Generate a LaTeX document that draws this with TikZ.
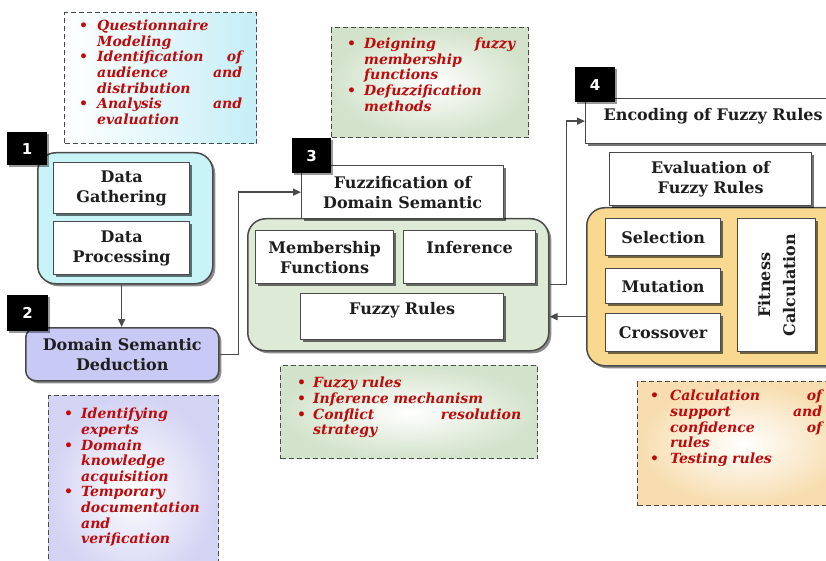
\documentclass[tikz,border=0pt]{standalone}
\usepackage{fontspec}
\setmainfont{DejaVu Serif}
\newfontfamily\lblfont{DejaVu Sans}
\usetikzlibrary{shadows,arrows.meta}
\definecolor{edge}{HTML}{4A4A4A}
\definecolor{cyanfill}{HTML}{C8F4F7}
\definecolor{lavfill}{HTML}{C9C9F6}
\definecolor{greenfill}{HTML}{DDEAD6}
\definecolor{orangefill}{HTML}{F9D98F}
\definecolor{notered}{HTML}{BE0A0A}
\definecolor{cyantint}{HTML}{C5EEF6}
\definecolor{lavtint}{HTML}{D3D3F4}
\definecolor{greentint}{HTML}{D3E3CB}
\definecolor{peachtint}{HTML}{F7DDAF}
\definecolor{boxtext}{HTML}{1E1E1E}
\newlength\hng
\newcommand{\itm}[1]{\par\noindent\hangindent=\hng\hangafter=1\makebox[\hng][l]{\textbullet}#1\par}
\tikzset{
 wbox/.style={draw=edge, line width=1.3pt, fill=white,
   drop shadow={shadow xshift=2.5pt, shadow yshift=-2.5pt, opacity=0.55, fill=black},
   font=\bfseries\fontsize{16}{20}\selectfont, text=boxtext, align=center,
   inner sep=0pt, anchor=north west},
 cont/.style={draw=edge, line width=1.5pt, rounded corners=18pt,
   drop shadow={shadow xshift=2.5pt, shadow yshift=-2.5pt, opacity=0.45, fill=black},
   inner sep=0pt, anchor=north west},
 numlbl/.style={fill=black, text=white, font=\lblfont\bfseries\fontsize{15}{15}\selectfont,
   inner sep=0pt, anchor=north west,
   drop shadow={shadow xshift=2pt, shadow yshift=-2pt, opacity=0.4, fill=black}},
 note/.style={draw=edge, line width=1.4pt, dash pattern=on 5pt off 3pt, inner sep=0pt, anchor=north west},
 notetext/.style={text=notered, font=\bfseries\itshape\fontsize{14}{15.6}\selectfont,
   inner sep=0pt, anchor=north west},
 arr/.style={draw=edge, line width=1.3pt, -{Triangle[length=8pt,width=7pt]}},
}
\begin{document}
\begin{tikzpicture}[x=1pt,y=-1pt]
\useasboundingbox (0,0) rectangle (826,561);
\clip (0,0) rectangle (826,561);

% ---------- notes ----------
\node[note, minimum width=192, minimum height=131, left color=white, right color=cyantint] (n1) at (64,12) {};
\node[notetext, text width=163] (n1t) at (79,15) {\setlength\hng{18pt}%
 \itm{Questionnaire\newline Modeling}%
 \itm{Identification\hfill of\newline audience\hfill and\newline distribution}%
 \itm{Analysis\hfill and\newline evaluation}};

\node[note, minimum width=197, minimum height=110, inner color=white, outer color=greentint] (n3) at (331,27) {};
\node[notetext, text width=168] (n3t) at (347,33) {\setlength\hng{17pt}%
 \itm{Deigning\hfill fuzzy\newline membership\newline functions}%
 \itm{Defuzzification\newline methods}};

\node[note, minimum width=170, minimum height=190, inner color=white, outer color=lavtint] (n2) at (48,395) {};
\node[notetext, text width=150] (n2t) at (64,403) {\setlength\hng{17pt}%
 \itm{Identifying\newline experts}%
 \itm{Domain\newline knowledge\newline acquisition}%
 \itm{Temporary\newline documentation\newline and\newline verification}};

\node[note, minimum width=257, minimum height=93, inner color=white, outer color=greentint] (n5) at (280,365) {};
\node[notetext, text width=224] (n5t) at (297,372) {\setlength\hng{16pt}%
 \itm{Fuzzy rules}%
 \itm{Inference mechanism}%
 \itm{Conflict\hfill resolution\newline strategy}};

\node[note, minimum width=210, minimum height=124, inner color=white, outer color=peachtint] (n4) at (637,381) {};
\node[notetext, text width=172] (n4t) at (650,385) {\setlength\hng{20pt}%
 \itm{Calculation\hfill of\newline support\hfill and\newline confidence\hfill of\newline rules}%
 \itm{Testing rules}};

% ---------- containers ----------
\node[cont, fill=cyanfill, minimum width=175, minimum height=131] (cyan) at (37,152) {};
\node[cont, fill=lavfill, rounded corners=10pt, minimum width=193, minimum height=53,
  font=\bfseries\fontsize{16}{20}\selectfont, text=boxtext, align=center] (dsd) at (25,327) {Domain Semantic\\Deduction};
\node[cont, fill=greenfill, minimum width=301, minimum height=132] (green) at (247,218) {};
\node[cont, fill=orangefill, minimum width=259, minimum height=158] (orange) at (586,207) {};

% ---------- inner boxes ----------
\node[wbox, minimum width=136, minimum height=51] (dg) at (53,162) {Data\\Gathering};
\node[wbox, minimum width=136, minimum height=53] (dp) at (53,221) {Data\\Processing};
\node[wbox, minimum width=202, minimum height=53] (fz) at (301,165) {Fuzzification of\\Domain Semantic};
\node[wbox, minimum width=138, minimum height=53] (mf) at (255,230) {Membership\\Functions};
\node[wbox, minimum width=132, minimum height=53] (inf) at (403,230) {Inference\\\mbox{}};
\node[wbox, minimum width=203, minimum height=46] (fr) at (300,293) {Fuzzy Rules\\[-4pt]\mbox{}};
\node[wbox, minimum width=255, minimum height=45] (enc) at (585,98) {Encoding of Fuzzy Rules\\[-6pt]\mbox{}};
\node[wbox, minimum width=202, minimum height=53] (ev) at (609,152) {Evaluation of\\Fuzzy Rules};
\node[wbox, minimum width=115, minimum height=37] (sel) at (605,218) {Selection};
\node[wbox, minimum width=115, minimum height=35] (mut) at (605,268) {Mutation};
\node[wbox, minimum width=115, minimum height=38] (cro) at (605,313) {Crossover};
\node[wbox, minimum width=78, minimum height=133] (fit) at (737,218) {};
\node[rotate=90, font=\bfseries\fontsize{16}{25}\selectfont, text=boxtext, align=center] (fitt) at (fit.center) {Fitness\\Calculation};

% ---------- connectors ----------
\draw[arr] (dp.south |- cyan.south) -- (dp.south |- dsd.north);
\draw[arr] (dsd.east) -- ++(19,0) |- (fz.west);
\draw[arr] (green.east) -- ++(17,0) |- (enc.west);
\draw[arr] (orange.west |- fr.east) -- (green.east |- fr.east);

% ---------- number labels ----------
\node[numlbl, minimum width=40, minimum height=33] (l1) at (7,132) {1};
\node[numlbl, minimum width=41, minimum height=36] (l2) at (7,295) {2};
\node[numlbl, minimum width=39, minimum height=35] (l3) at (292,138) {3};
\node[numlbl, minimum width=40, minimum height=35] (l4) at (575,67) {4};
\end{tikzpicture}
\end{document}
